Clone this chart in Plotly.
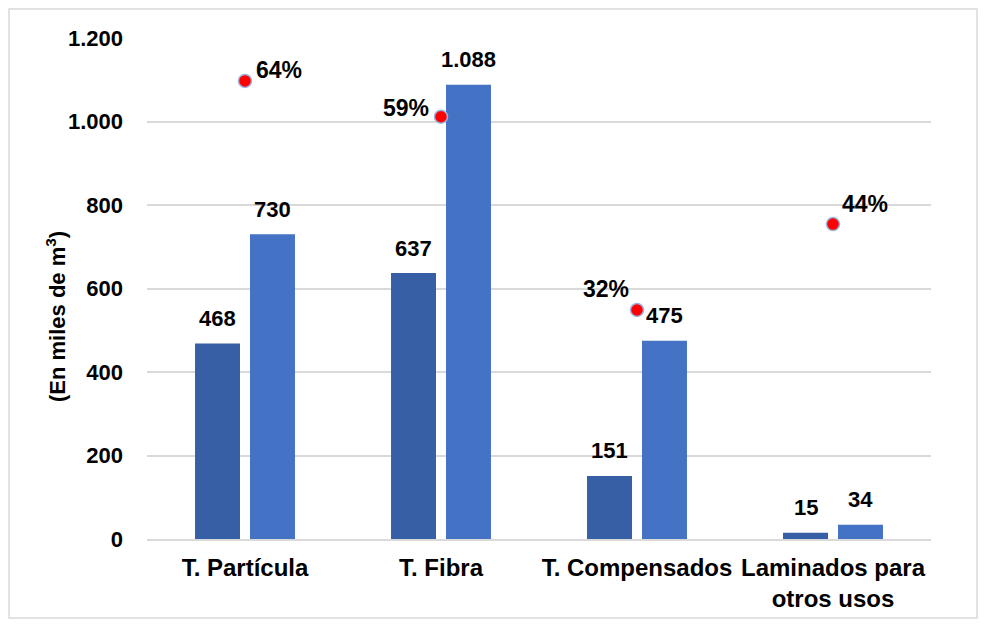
"""Producción vs capacidad de tableros (miles de m³) con porcentaje de uso."""

import plotly.graph_objects as go

categorias = ["T. Partícula", "T. Fibra", "T. Compensados", "Laminados para<br>otros usos"]
produccion = [468, 637, 151, 15]
capacidad = [730, 1088, 475, 34]
etiquetas_prod = ["468", "637", "151", "15"]
etiquetas_cap = ["730", "1.088", "475", "34"]
uso = [0.64, 0.59, 0.32, 0.44]
etiquetas_uso = ["64%", "59%", "32%", "44%"]

FONT = "Liberation Sans, Arial, sans-serif"
GRID = "#D9D9D9"
label_font = dict(family=FONT, size=22, color="#000000", weight="bold")
pct_font = dict(family=FONT, size=23, color="#000000", weight="bold")

# desplaçaments (px) de les etiquetes de percentatge respecte del punt
pct_anchor = ["left", "right", "right", "left"]
pct_xshift = [9, -10, -6, 7]
pct_yshift = [11, 9, 21, 20]
BAR_OFFSET = 27.5  # mig slot de barra, en px

fig = go.Figure()

fig.add_trace(go.Bar(
    x=categorias,
    y=produccion,
    name="Producción",
    marker=dict(color="#365FA5", line=dict(width=0)),
))
fig.add_trace(go.Bar(
    x=categorias,
    y=capacidad,
    name="Capacidad",
    marker=dict(color="#4472C4", line=dict(width=0)),
))
fig.add_trace(go.Scatter(
    x=categorias,
    y=uso,
    yaxis="y2",
    mode="markers",
    name="Uso",
    marker=dict(color="#FF0000", size=13, line=dict(color="#9DB2DE", width=1.5)),
    cliponaxis=False,
))

# etiquetes de les barres, una mica separades de la barra com a l'original
for cat, v1, t1, v2, t2 in zip(categorias, produccion, etiquetas_prod, capacidad, etiquetas_cap):
    fig.add_annotation(x=cat, y=v1, text=t1, showarrow=False, xshift=-BAR_OFFSET, yshift=25,
                       yanchor="middle", font=label_font)
    fig.add_annotation(x=cat, y=v2, text=t2, showarrow=False, xshift=BAR_OFFSET, yshift=25,
                       yanchor="middle", font=label_font)

for cat, v, t, anc, dx, dy in zip(categorias, uso, etiquetas_uso, pct_anchor, pct_xshift, pct_yshift):
    fig.add_annotation(x=cat, y=v, yref="y2", text=t, showarrow=False, xanchor=anc,
                       yanchor="middle", xshift=dx, yshift=dy, font=pct_font)

# marc gris al voltant de tota la figura
fig.add_shape(
    type="rect", xref="paper", yref="paper",
    x0=-0.176, x1=1.0587, y0=-0.1577, y1=1.0579,
    line=dict(color=GRID, width=1.5), fillcolor="rgba(0,0,0,0)", layer="below",
)

# títol de l'eix Y com a anotació per poder-lo col·locar igual que l'original
fig.add_annotation(
    text="(En miles de m<sup>3</sup>)",
    xref="paper", yref="paper",
    x=-0.1365, y=0.445,
    textangle=-90,
    showarrow=False,
    font=dict(family=FONT, size=22, color="#000000", weight="bold"),
)

# la pàgina té 8 px de marge al body: la figura és 16 px més petita i els marges compensen
fig.update_layout(
    width=970,
    height=611,
    margin=dict(l=139, r=47, t=30, b=80),
    paper_bgcolor="white",
    plot_bgcolor="white",
    barmode="group",
    bargap=0.439,
    bargroupgap=0.182,
    showlegend=False,
    separators=",.",
    font=dict(family=FONT, color="#000000"),
    xaxis=dict(
        automargin=False,
        showline=True,
        linecolor=GRID,
        linewidth=1.5,
        showgrid=False,
        ticks="",
        ticklabelstandoff=6,
        tickfont=dict(family=FONT, size=24, color="#000000", weight="bold"),
    ),
    yaxis=dict(
        automargin=False,
        range=[0, 1200],
        dtick=200,
        tickformat=",d",
        showgrid=True,
        gridcolor=GRID,
        gridwidth=1.5,
        zeroline=False,
        showline=False,
        ticks="",
        ticklabelstandoff=23,
        tickfont=dict(family=FONT, size=22, color="#000000", weight="bold"),
    ),
    yaxis2=dict(
        range=[0, 0.7],
        overlaying="y",
        side="right",
        visible=False,
    ),
)

fig.write_html("out.html")
